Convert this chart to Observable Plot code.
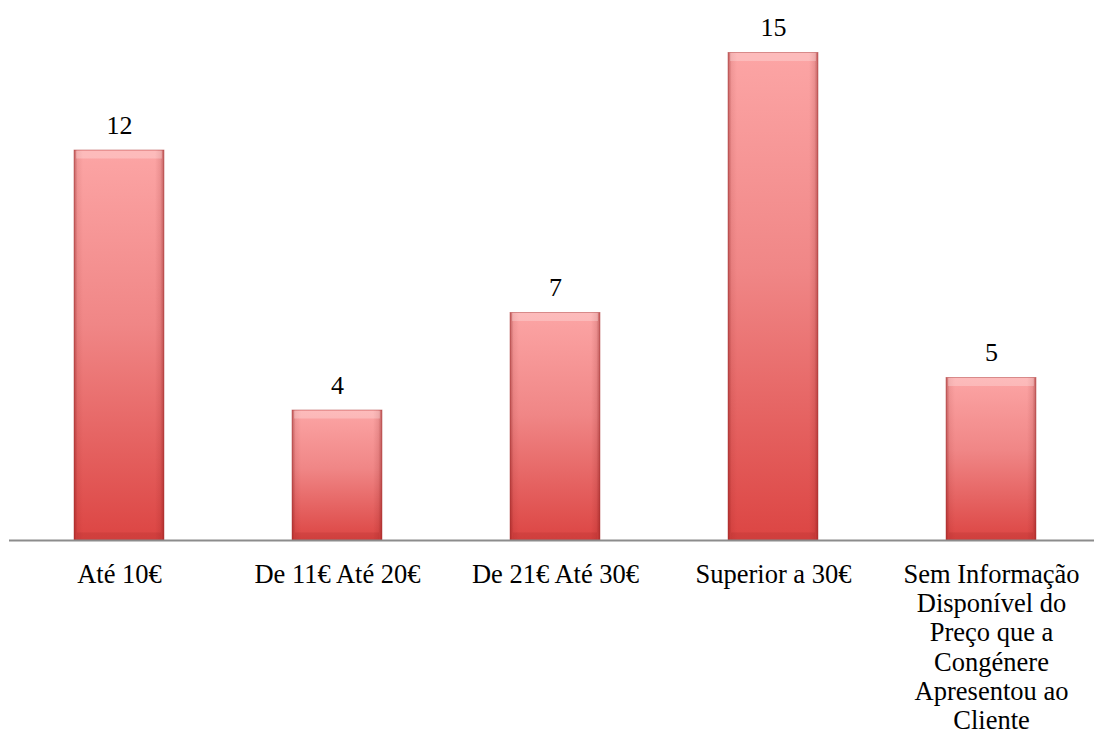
<!DOCTYPE html>
<html>
<head>
<meta charset="utf-8">
<script src="https://cdn.jsdelivr.net/npm/d3@7"></script>
<script src="https://cdn.jsdelivr.net/npm/@observablehq/plot@0.6"></script>
<style>
  html, body { margin: 0; padding: 0; background: #fff; }
  #chart svg { display: block; }
</style>
</head>
<body>
<div id="chart"></div>
<script>
const categories = [
  "Até 10€",
  "De 11€ Até 20€",
  "De 21€ Até 30€",
  "Superior a 30€",
  "Sem Informação Disponível do Preço que a Congénere Apresentou ao Cliente"
];
const values = [12, 4, 7, 15, 5];
const tickLabels = [
  "Até 10€",
  "De 11€ Até 20€",
  "De 21€ Até 30€",
  "Superior a 30€",
  "Sem Informação\nDisponível do\nPreço que a\nCongénere\nApresentou ao\nCliente"
];

const data = categories.map((c, i) => ({category: c, value: values[i], label: tickLabels[i]}));
const labelOf = new Map(data.map(d => [d.category, d.label]));

const font = "Liberation Serif, DejaVu Serif, serif";

const defs = () => {
  const g = d3.create("svg:defs");
  const v = g.append("linearGradient").attr("id", "barGrad").attr("x1", 0).attr("y1", 0).attr("x2", 0).attr("y2", 1);
  v.append("stop").attr("offset", "0%").attr("stop-color", "#fca5a5");
  v.append("stop").attr("offset", "45%").attr("stop-color", "#f08686");
  v.append("stop").attr("offset", "100%").attr("stop-color", "#dc4543");
  const h = g.append("linearGradient").attr("id", "sideGrad").attr("x1", 0).attr("y1", 0).attr("x2", 1).attr("y2", 0);
  h.append("stop").attr("offset", "0%").attr("stop-color", "#7a1010").attr("stop-opacity", 0.45);
  h.append("stop").attr("offset", "4%").attr("stop-color", "#7a1010").attr("stop-opacity", 0.08);
  h.append("stop").attr("offset", "10%").attr("stop-color", "#7a1010").attr("stop-opacity", 0);
  h.append("stop").attr("offset", "90%").attr("stop-color", "#7a1010").attr("stop-opacity", 0);
  h.append("stop").attr("offset", "96%").attr("stop-color", "#7a1010").attr("stop-opacity", 0.12);
  h.append("stop").attr("offset", "100%").attr("stop-color", "#7a1010").attr("stop-opacity", 0.45);
  const f = g.append("filter").attr("id", "shadow").attr("x", "-10%").attr("y", "-10%").attr("width", "130%").attr("height", "130%");
  f.append("feDropShadow").attr("dx", 2.5).attr("dy", 1.5).attr("stdDeviation", 2.2).attr("flood-color", "#000").attr("flood-opacity", 0.3);
  return g.node();
};

const chart = Plot.plot({
  width: 1094,
  height: 740,
  marginLeft: 9,
  marginRight: 0,
  marginTop: 52.5,
  marginBottom: 200,
  x: {domain: categories, range: [9, 1101.5], paddingInner: 0.588, paddingOuter: 0.294, label: null},
  y: {domain: [0, 15], label: null, axis: null},
  marks: [
    defs,
    Plot.barY(data, {x: "category", y: "value", fill: "url(#barGrad)", ariaLabel: "shadowbar"}),
    Plot.barY(data, {x: "category", y: "value", fill: "url(#sideGrad)"}),
    Plot.tickY(data, {x: "category", y: "value", stroke: "#ffffff", strokeOpacity: 0.25, strokeWidth: 8, dy: 4, inset: 2}),
    Plot.tickY(data, {x: "category", y: () => 0, stroke: "#8a1a1a", strokeOpacity: 0.15, strokeWidth: 8, dy: -4, inset: 3}),
    Plot.barY(data, {x: "category", y: "value", fill: "none", stroke: "#a83030", strokeOpacity: 0.55, strokeWidth: 0.8}),
    Plot.ruleY([0], {stroke: "#8c8c8c", strokeWidth: 2}),
    Plot.text(data, {x: "category", y: "value", text: d => String(d.value), dy: -17, lineAnchor: "bottom", fontSize: 26, fontFamily: font, fill: "#000"}),
    Plot.axisX({tickSize: 0, tickPadding: 22, tickFormat: d => labelOf.get(d), fontSize: 26.5, fontFamily: font, fill: "#000", lineHeight: 1.1, label: null})
  ]
});

d3.select(chart).selectAll("g[aria-label='shadowbar']").attr("filter", "url(#shadow)");
document.getElementById("chart").appendChild(chart);
</script>
</body>
</html>
